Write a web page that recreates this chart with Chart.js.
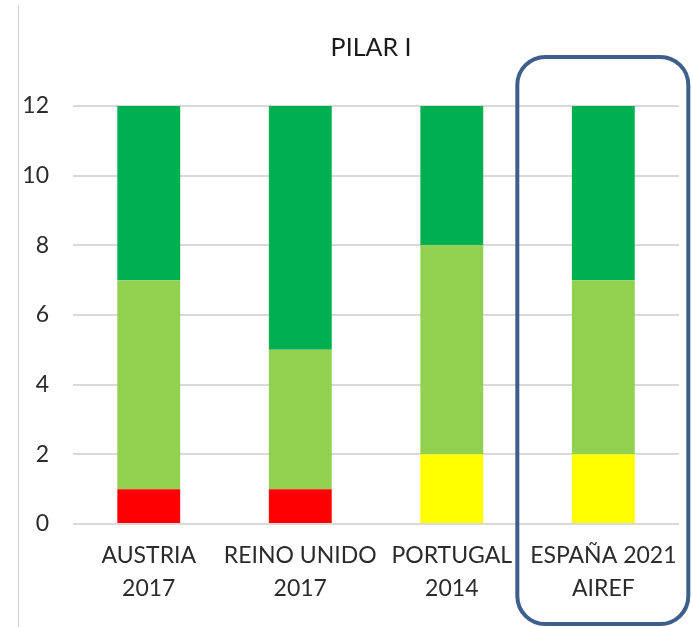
<!DOCTYPE html>
<html>
<head>
<meta charset="utf-8">
<script src="https://cdn.jsdelivr.net/npm/chart.js@4/dist/chart.umd.min.js"></script>
<style>
  html, body { margin: 0; padding: 0; background: #fff; }
  #wrap { width: 693px; height: 627px; position: relative; }
</style>
</head>
<body>
<div id="wrap"><canvas id="pilarChart"></canvas></div>
<script>
// datos
const categories = [['AUSTRIA', '2017'], ['REINO UNIDO', '2017'], ['PORTUGAL', '2014'], ['ESPAÑA 2021', 'AIREF']];
const rojo = [1, 1, 0, 0];
const amarillo = [0, 0, 2, 2];
const verdeClaro = [6, 4, 6, 5];
const verdeOscuro = [5, 7, 4, 5];
const yTicks = [0, 2, 4, 6, 8, 10, 12];
const chartTitle = 'PILAR I';

const FONT = 'Lato, "Open Sans", sans-serif';
const textColor = '#2b2b2b';

// título, línea izquierda y recuadro de España
const extrasPlugin = {
    id: 'extras',
    afterDraw(chart) {
        const { ctx, chartArea, scales } = chart;
        ctx.save();

        // línea vertical izquierda
        ctx.strokeStyle = '#d0d0d0';
        ctx.lineWidth = 1;
        ctx.beginPath();
        ctx.moveTo(18.5, 5);
        ctx.lineTo(18.5, 627);
        ctx.stroke();

        // título
        ctx.fillStyle = '#1a1a1a';
        ctx.font = '25px ' + FONT;
        ctx.textAlign = 'center';
        ctx.textBaseline = 'middle';
        ctx.fillText(chartTitle, (chartArea.left + chartArea.right) / 2 - 5, 48);

        // recuadro redondeado
        const cx = scales.x.getPixelForValue(3);
        const x0 = cx - 86, x1 = cx + 85, y0 = 57, y1 = 624, r = 28;
        ctx.strokeStyle = '#3e5f8c';
        ctx.lineWidth = 4;
        ctx.beginPath();
        ctx.roundRect(x0, y0, x1 - x0, y1 - y0, r);
        ctx.stroke();
        ctx.restore();
    }
};

new Chart(document.getElementById('pilarChart'), {
    type: 'bar',
    data: {
        labels: categories,
        datasets: [
            { label: 'Rojo', data: rojo, backgroundColor: '#ff0000' },
            { label: 'Amarillo', data: amarillo, backgroundColor: '#ffff00' },
            { label: 'Verde claro', data: verdeClaro, backgroundColor: '#92d050' },
            { label: 'Verde oscuro', data: verdeOscuro, backgroundColor: '#00b050' }
        ]
    },
    options: {
        responsive: true,
        maintainAspectRatio: false,
        animation: false,
        devicePixelRatio: 1,
        categoryPercentage: 1,
        barPercentage: 0.415,
        layout: { padding: { left: 0, right: 12, top: 106, bottom: 0 } },
        plugins: {
            legend: { display: false },
            tooltip: { enabled: false },
            title: { display: false }
        },
        scales: {
            x: {
                stacked: true,
                grid: { display: false, drawTicks: false },
                border: { display: false },
                ticks: {
                    color: textColor,
                    font: { family: FONT, size: 23, lineHeight: 1.45 },
                    padding: 15,
                    maxRotation: 0,
                    autoSkip: false
                },
                afterFit: scale => { scale.height = 103; }
            },
            y: {
                stacked: true,
                min: 0,
                max: 12,
                afterBuildTicks: scale => { scale.ticks = yTicks.map(v => ({ value: v })); },
                grid: { color: '#d9d9d9', lineWidth: 2, drawTicks: false },
                border: { display: false },
                ticks: {
                    color: textColor,
                    font: { family: FONT, size: 23 },
                    padding: 24
                },
                afterFit: scale => { scale.width = 73; }
            }
        }
    },
    plugins: [extrasPlugin]
});
</script>
</body>
</html>
